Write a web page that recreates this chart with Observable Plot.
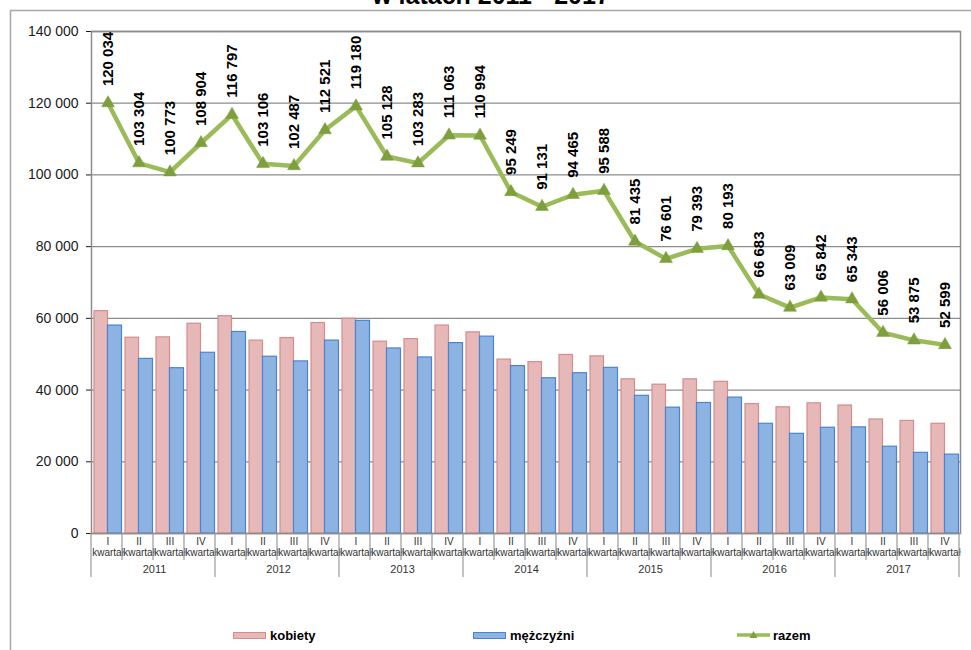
<!DOCTYPE html>
<html>
<head>
<meta charset="utf-8">
<script src="https://cdn.jsdelivr.net/npm/d3@7"></script>
<script src="https://cdn.jsdelivr.net/npm/@observablehq/plot@0.6"></script>
<style>
  body { margin: 0; background: #fff; font-family: "Liberation Sans", Arial, sans-serif; }
  #wrap { position: relative; width: 971px; height: 650px; overflow: hidden; }
  #legend { position: absolute; left: 0; top: 626px; width: 971px; height: 18px; font-weight: bold; font-size: 13px; color: #000; }
  .li { position: absolute; top: 0; height: 18px; display: flex; align-items: center; }
  .sw { display: inline-block; width: 33px; height: 7px; margin-right: 4px; box-sizing: border-box; }
</style>
</head>
<body>
<div id="wrap">
  <div id="chart"></div>
  <div id="legend"></div>
</div>
<script>
const years = ["2011", "2012", "2013", "2014", "2015", "2016", "2017"];
const quarters = ["I", "II", "III", "IV"];
const quarterWord = "kwartał";
const seriesNames = ["kobiety", "mężczyźni", "razem"];
const titleText = "w latach 2011 - 2017";

const kobiety = [
  62000, 54600, 54700, 58500,
  60600, 53800, 54500, 58700,
  59900, 53500, 54200, 58000,
  56100, 48500, 47800, 49800,
  49400, 43000, 41500, 43000,
  42300, 36100, 35200, 36300,
  35700, 31800, 31400, 30600
];
const mezczyzni = [
  58000, 48700, 46100, 50400,
  56200, 49300, 48000, 53800,
  59300, 51600, 49100, 53100,
  54900, 46700, 43300, 44700,
  46200, 38400, 35100, 36400,
  37900, 30600, 27800, 29500,
  29600, 24200, 22500, 22000
];
const razem = [
  120034, 103304, 100773, 108904,
  116797, 103106, 102487, 112521,
  119180, 105128, 103283, 111063,
  110994, 95249, 91131, 94465,
  95588, 81435, 76601, 79393,
  80193, 66683, 63009, 65842,
  65343, 56006, 53875, 52599
];
const yTicks = [0, 20000, 40000, 60000, 80000, 100000, 120000, 140000];

const colors = {
  kFill: "#E6B9B8", kStroke: "#D48D8C",
  mFill: "#8DB3E2", mStroke: "#4A84D0",
  line: "#9BBB59", marker: "#7E9F3D"
};

const keys = years.flatMap(y => quarters.map(q => y + " " + q));
const rows = keys.map((key, i) => ({
  key, year: years[Math.floor(i / 4)], q: quarters[i % 4],
  k: kobiety[i], m: mezczyzni[i], r: razem[i]
}));

const locale = d3.formatLocale({decimal: ",", thousands: " ", grouping: [3], currency: ["", ""]});
const fmt = locale.format(",d");

const W = 971, H = 650, ML = 91, MR = 11, MT = 31, MB = 117;
const bw = (W - ML - MR) / keys.length;

const plot = Plot.plot({
  width: W, height: H,
  marginLeft: ML, marginRight: MR, marginTop: MT, marginBottom: MB,
  style: {fontFamily: "'Liberation Sans', Arial, sans-serif", fontSize: "14px", color: "#1a1a1a", background: "transparent", overflow: "visible"},
  x: {type: "band", domain: keys, padding: 0, axis: null},
  y: {domain: [0, 140000], ticks: yTicks, tickFormat: fmt, tickSize: 5, tickPadding: 8, label: null},
  marks: [
    Plot.ruleY(yTicks, {stroke: "#8c8c8c", strokeWidth: 1.3}),
    Plot.barY(rows, {x: "key", y: "k", fill: colors.kFill, stroke: colors.kStroke, strokeWidth: 1.2, insetLeft: 2, insetRight: 15.5, ariaLabel: "kobiety"}),
    Plot.barY(rows, {x: "key", y: "m", fill: colors.mFill, stroke: colors.mStroke, strokeWidth: 1.2, insetLeft: 15.5, insetRight: 1.5, ariaLabel: "mezczyzni"}),
    Plot.frame({stroke: "#8c8c8c", strokeWidth: 1.5}),
    Plot.line(rows, {x: "key", y: "r", stroke: colors.line, strokeWidth: 4.5}),
    Plot.dot(rows, {x: "key", y: "r", symbol: "triangle", r: 4.8, fill: colors.marker, stroke: colors.marker, strokeWidth: 0.5}),
    Plot.text(rows, {x: "key", y: "r", text: d => fmt(d.r), rotate: -90, textAnchor: "start", dy: -17, fontWeight: "bold", fontSize: 15, fill: "#000"}),
    Plot.text(rows, {x: "key", text: "q", frameAnchor: "bottom", dy: 11, fontSize: 10, fill: "#333"}),
    Plot.text(rows, {x: "key", text: () => quarterWord, frameAnchor: "bottom", dy: 22, fontSize: 10, fill: "#333"}),
    Plot.text(years, {x: d => d + " II", text: d => d, frameAnchor: "bottom", dx: bw / 2, dy: 39, fontSize: 11, fill: "#333"})
  ]
});

document.getElementById("chart").appendChild(plot);

const svg = d3.select(plot);
const shadow = "drop-shadow(4px 3px 2.5px rgba(0,0,0,0.45))";
svg.selectAll('g[aria-label="kobiety"], g[aria-label="mezczyzni"]').style("filter", shadow);

// category separators from the x scale
const xs = plot.scale("x");
const ys = plot.scale("y");
const y0 = ys.apply(0);
const r0 = xs.range[0];
const band = xs.bandwidth;
const sep = svg.append("g").attr("stroke", "#9a9a9a").attr("stroke-width", 1.2);
for (let i = 0; i <= keys.length; i++) {
  const x = r0 + i * band;
  sep.append("line").attr("x1", x).attr("x2", x).attr("y1", y0).attr("y2", y0 + (i % 4 === 0 ? 44 : 27));
}

// outer chart-area border
const fr = svg.append("g").attr("stroke", "#a6a6a6").attr("stroke-width", 1.5);
fr.append("line").attr("x1", 10).attr("x2", W).attr("y1", 10.5).attr("y2", 10.5);
fr.append("line").attr("x1", 10.5).attr("x2", 10.5).attr("y1", 10).attr("y2", H);

// title (cut off at the top, as in the reference)
svg.append("text").attr("x", 491).attr("y", 4).attr("text-anchor", "middle")
  .attr("font-weight", "bold").attr("font-size", 25).attr("fill", "#000").text(titleText);

// legend
const legend = document.getElementById("legend");
const items = [
  {name: seriesNames[0], left: 233, html: `<span class="sw" style="background:${colors.kFill};border:1px solid ${colors.kStroke}"></span>`},
  {name: seriesNames[1], left: 473, html: `<span class="sw" style="background:${colors.mFill};border:1px solid ${colors.mStroke}"></span>`},
  {name: seriesNames[2], left: 737, html: `<svg width="33" height="12" style="margin-right:3px"><line x1="0" x2="33" y1="6" y2="6" stroke="${colors.line}" stroke-width="3.5"/><path d="M16.5,2 L20.5,9 L12.5,9 Z" fill="${colors.marker}"/></svg>`}
];
for (const it of items) {
  const d = document.createElement("div");
  d.className = "li";
  d.style.left = it.left + "px";
  d.innerHTML = it.html + `<span>${it.name}</span>`;
  legend.appendChild(d);
}
</script>
</body>
</html>
